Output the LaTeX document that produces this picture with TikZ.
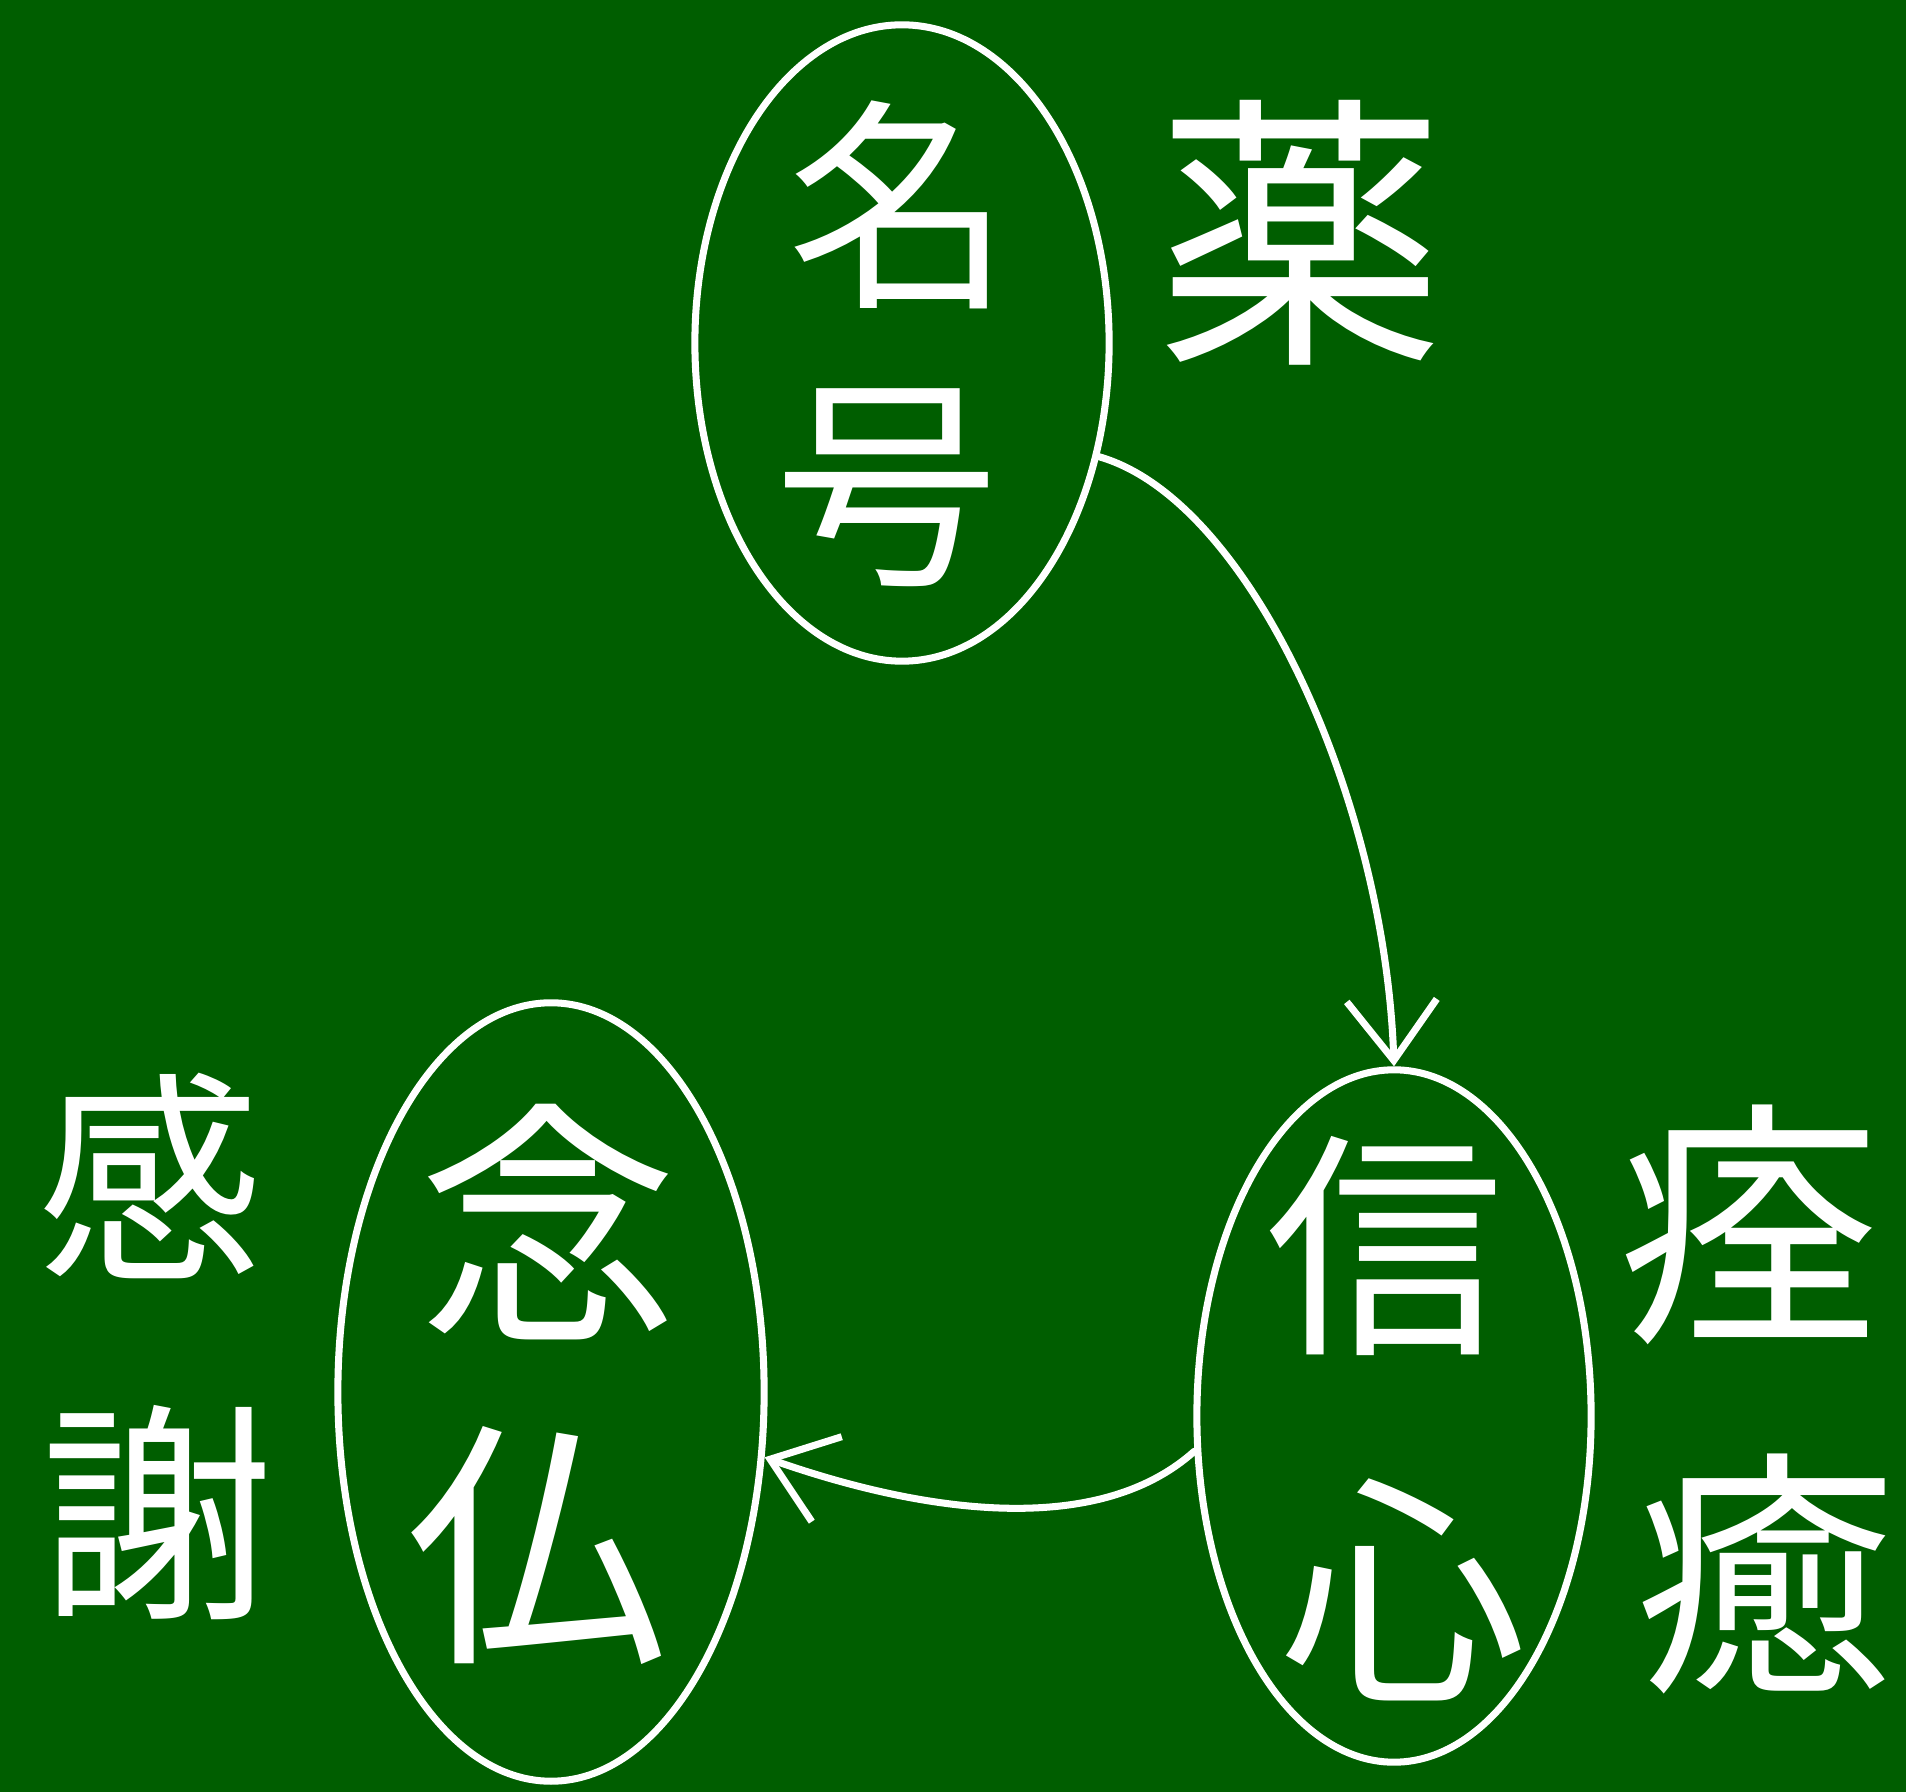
\documentclass[tikz,border=0pt]{standalone}
\usepackage{fontspec}
\newfontfamily\cjk{Noto Sans CJK JP}
\usetikzlibrary{shapes.geometric,arrows.meta}
\definecolor{board}{RGB}{0,94,0}
\tikzset{
  chalk/.style={draw=white, line width=2pt, line cap=round},
  oval/.style={chalk, ellipse, inner sep=0pt},
  kanji/.style={text=white, font=\cjk\fontsize{#1}{#1}\selectfont, inner sep=0pt},
  flow/.style={chalk, -{Straight Barb[length=6mm,width=9mm]}}
}
\begin{document}
\begin{tikzpicture}[x=0.01cm, y=-0.01cm]
    % Draw the board
    \fill[board] (0,0) rectangle (1906,1792);
    \useasboundingbox (0,0) rectangle (1906,1792);

    % Ovals
    \node[oval, minimum width=4.14cm, minimum height=6.36cm] (myogo) at (902,343) {};
    \node[oval, minimum width=3.94cm, minimum height=6.92cm] (shinjin) at (1394,1416) {};
    \node[oval, minimum width=4.26cm, minimum height=7.78cm] (nembutsu) at (551,1392) {};

    % Words inside the ovals
    \node[kanji=64] (myo) at (900,205) {名};
    \node[kanji=64] (go) at (887,488) {号};
    \node[kanji=68] (shin) at (1385,1246) {信};
    \node[kanji=70] (jin) at (1404,1590) {心};
    \node[kanji=74] (nen) at (549,1222) {念};
    \node[kanji=74] (butsu) at (537,1546) {仏};

    % Words beside the ovals
    \node[kanji=82] (kusuri) at (1301,233) {薬};
    \node[kanji=74] (sen) at (1750,1225) {痊};
    \node[kanji=74] (yu) at (1765,1574) {癒};
    \node[kanji=64] (kan) at (150,1176) {感};
    \node[kanji=66] (sha) at (158,1513) {謝};

    % Arrows
    \draw[flow] (myogo.-30) .. controls (1250,500) and (1385,800) .. (shinjin.north);
    \draw[flow] (shinjin.190) .. controls (1090,1545) and (900,1505) .. (nembutsu.-17);
\end{tikzpicture}
\end{document}
